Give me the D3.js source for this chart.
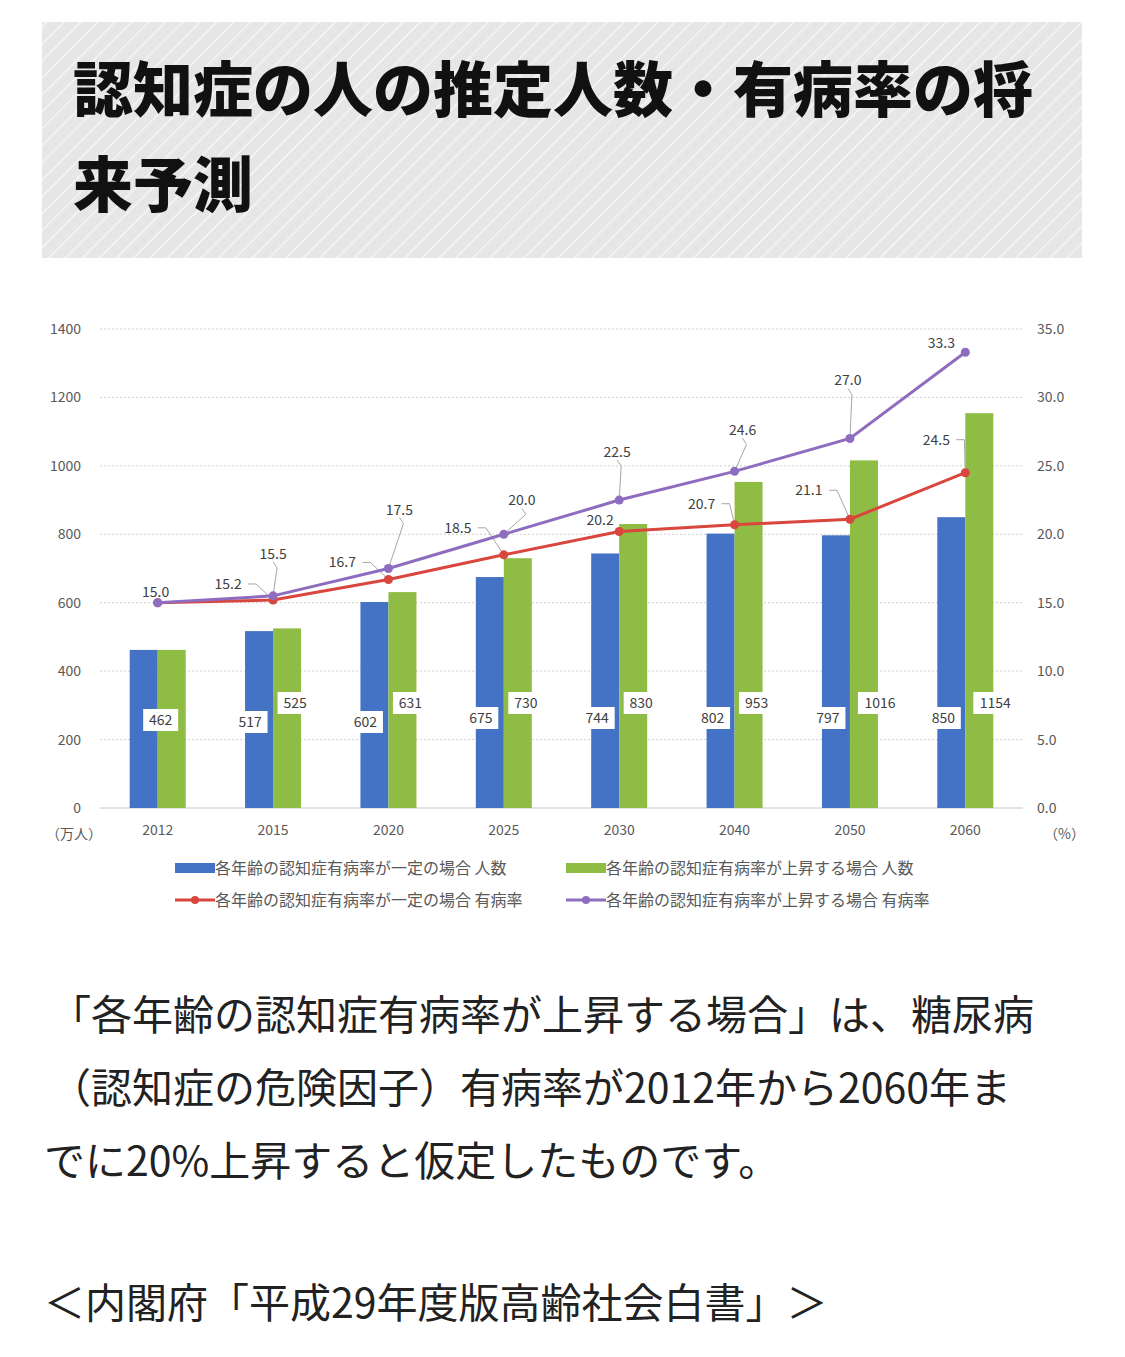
<!DOCTYPE html><html><head><meta charset="utf-8">
<script src="https://cdn.jsdelivr.net/npm/d3@7"></script>
<style>body{margin:0;background:#fff;font-family:"Noto Sans CJK JP",sans-serif}</style></head><body>
<svg id="c" width="1125" height="1357"></svg>
<script>
const years=["2012","2015","2020","2025","2030","2040","2050","2060"];
const blueVals=[462,517,602,675,744,802,797,850];
const greenVals=[462,525,631,730,830,953,1016,1154];
const redRate=[15.0,15.2,16.7,18.5,20.2,20.7,21.1,24.5];
const purpleRate=[15.0,15.5,17.5,20.0,22.5,24.6,27.0,33.3];
const leftTicks=[0,200,400,600,800,1000,1200,1400];
const rightTicks=[0,5,10,15,20,25,30,35];
const purpleOff=[[-2,-11,0],[0,-42,1],[11,-59,1],[18,-34,1],[-2,-48,1],[8,-41,1],[-2,-58,1],[-24,-9,0]];
const redOff=[[0,0,-1],[-45,-16,1],[-46,-17,1],[-46,-27,1],[-19,-12,0],[-33,-21,1],[-41,-29,1],[-29,-33,1]];

const svg=d3.select("#c");
const defs=svg.append("defs");
const p=defs.append("pattern").attr("id","st").attr("width",12).attr("height",12).attr("patternUnits","userSpaceOnUse").attr("patternTransform","rotate(45)");
p.append("rect").attr("width",12).attr("height",12).attr("fill","#e6e6e6");
p.append("line").attr("x1",0).attr("y1",0).attr("x2",0).attr("y2",12).attr("stroke","#f6f6f6").attr("stroke-width",3);
svg.append("rect").attr("x",42).attr("y",22).attr("width",1040).attr("height",236).attr("fill","url(#st)");
svg.append("text").attr("x",73).attr("y",112).attr("font-size",60).attr("font-weight",900).attr("fill","#111").text("認知症の人の推定人数・有病率の将");
svg.append("text").attr("x",73).attr("y",207).attr("font-size",60).attr("font-weight",900).attr("fill","#111").text("来予測");

const x=d3.scaleBand().domain(years).range([100,1023]);
const yL=d3.scaleLinear().domain([0,1400]).range([808,329]);
const yR=d3.scaleLinear().domain([0,35]).range([808,329]);
const g=svg.append("g").attr("font-family","'Noto Sans CJK JP',sans-serif");
leftTicks.forEach(t=>{
  if(t>0)g.append("line").attr("x1",100).attr("x2",1023).attr("y1",yL(t)).attr("y2",yL(t)).attr("stroke","#d0d0d0").attr("stroke-dasharray","2,2");
  g.append("text").attr("x",81).attr("y",yL(t)+5).attr("text-anchor","end").attr("font-size",14).attr("fill","#595959").text(t);
});
g.append("line").attr("x1",100).attr("x2",1023).attr("y1",808).attr("y2",808).attr("stroke","#c8c8c8");
rightTicks.forEach(t=>g.append("text").attr("x",1037).attr("y",yR(t)+5).attr("font-size",14).attr("fill","#595959").text(t.toFixed(1)));
years.forEach(yv=>g.append("text").attr("x",x(yv)+x.bandwidth()/2).attr("y",835).attr("text-anchor","middle").attr("font-size",14).attr("fill","#595959").text(yv));
g.append("text").attr("x",46).attr("y",839).attr("font-size",14).attr("fill","#595959").text("（万人）");
g.append("text").attr("x",1044).attr("y",839).attr("font-size",14).attr("fill","#595959").text("（%）");
const cx=yv=>x(yv)+x.bandwidth()/2;
const bw=28;
function box(t,xc,yc,w){g.append("rect").attr("x",xc-w/2).attr("y",yc-11).attr("width",w).attr("height",22).attr("fill","#fff");
 g.append("text").attr("x",xc).attr("y",yc+5).attr("text-anchor","middle").attr("font-size",14).attr("fill","#404040").text(t);}
years.forEach((yv,i)=>{
  g.append("rect").attr("x",cx(yv)-bw).attr("y",yL(blueVals[i])).attr("width",bw).attr("height",808-yL(blueVals[i])).attr("fill","#4472c4");
  g.append("rect").attr("x",cx(yv)).attr("y",yL(greenVals[i])).attr("width",bw).attr("height",808-yL(greenVals[i])).attr("fill","#8fbc45");
});
years.forEach((yv,i)=>{
  const wb=String(blueVals[i]).length*9+8, wg=String(greenVals[i]).length*9+8;
  box(blueVals[i],cx(yv)-(i==0?-3:i>=4?22:23),i==0?720:i>=3?718:722,wb);
  if(i>0)box(greenVals[i],cx(yv)+(i>=6?30:22),703,wg);
});
function series(vals,col,off){
  const line=d3.line().x((d,i)=>cx(years[i])).y(d=>yR(d));
  g.append("path").attr("d",line(vals)).attr("fill","none").attr("stroke",col).attr("stroke-width",3);
  vals.forEach((v,i)=>{
    const px=cx(years[i]),py=yR(v),o=off[i];
    if(o[2]===-1)return;
    const lx=px+o[0],ly=py+o[1];
    if(o[2]){g.append("path").attr("d",`M${lx+(o[0]<-10?20:0)},${ly+(o[0]<-10?0:8)} L${lx+(o[0]<-10?28:4)},${ly+(o[0]<-10?0:14)} L${px},${py}`).attr("fill","none").attr("stroke","#a6a6a6");}
    g.append("text").attr("x",lx).attr("y",ly+5).attr("text-anchor","middle").attr("font-size",14).attr("fill","#404040").text(v.toFixed(1));
  });
  vals.forEach((v,i)=>g.append("circle").attr("cx",cx(years[i])).attr("cy",yR(v)).attr("r",4.5).attr("fill",col));
}
series(redRate,"#d9463e",redOff);
series(purpleRate,"#8e6cc0",purpleOff);
const leg=[["bar","#4472c4","各年齢の認知症有病率が一定の場合 人数",175,868],["bar","#8fbc45","各年齢の認知症有病率が上昇する場合 人数",566,868],["line","#d9463e","各年齢の認知症有病率が一定の場合 有病率",175,900],["line","#8e6cc0","各年齢の認知症有病率が上昇する場合 有病率",566,900]];
leg.forEach(l=>{
  if(l[0]=="bar")g.append("rect").attr("x",l[3]).attr("y",l[4]-5).attr("width",40).attr("height",10).attr("fill",l[1]);
  else{g.append("line").attr("x1",l[3]).attr("x2",l[3]+40).attr("y1",l[4]).attr("y2",l[4]).attr("stroke",l[1]).attr("stroke-width",3);
   g.append("circle").attr("cx",l[3]+20).attr("cy",l[4]).attr("r",4).attr("fill",l[1]);}
  g.append("text").attr("x",l[3]+40).attr("y",l[4]+6).attr("font-size",16).attr("fill","#595959").text(l[2]);
});
const foot=["「各年齢の認知症有病率が上昇する場合」は、糖尿病","（認知症の危険因子）有病率が2012年から2060年ま","でに20%上昇すると仮定したものです。"];
foot.forEach((t,i)=>svg.append("text").attr("x",i==2?44:50).attr("y",1030+i*73).attr("font-size",41).attr("fill","#222").text(t));
svg.append("text").attr("x",44).attr("y",1318).attr("font-size",41).attr("fill","#222").text("＜内閣府「平成29年度版高齢社会白書」＞");
</script></body></html>
